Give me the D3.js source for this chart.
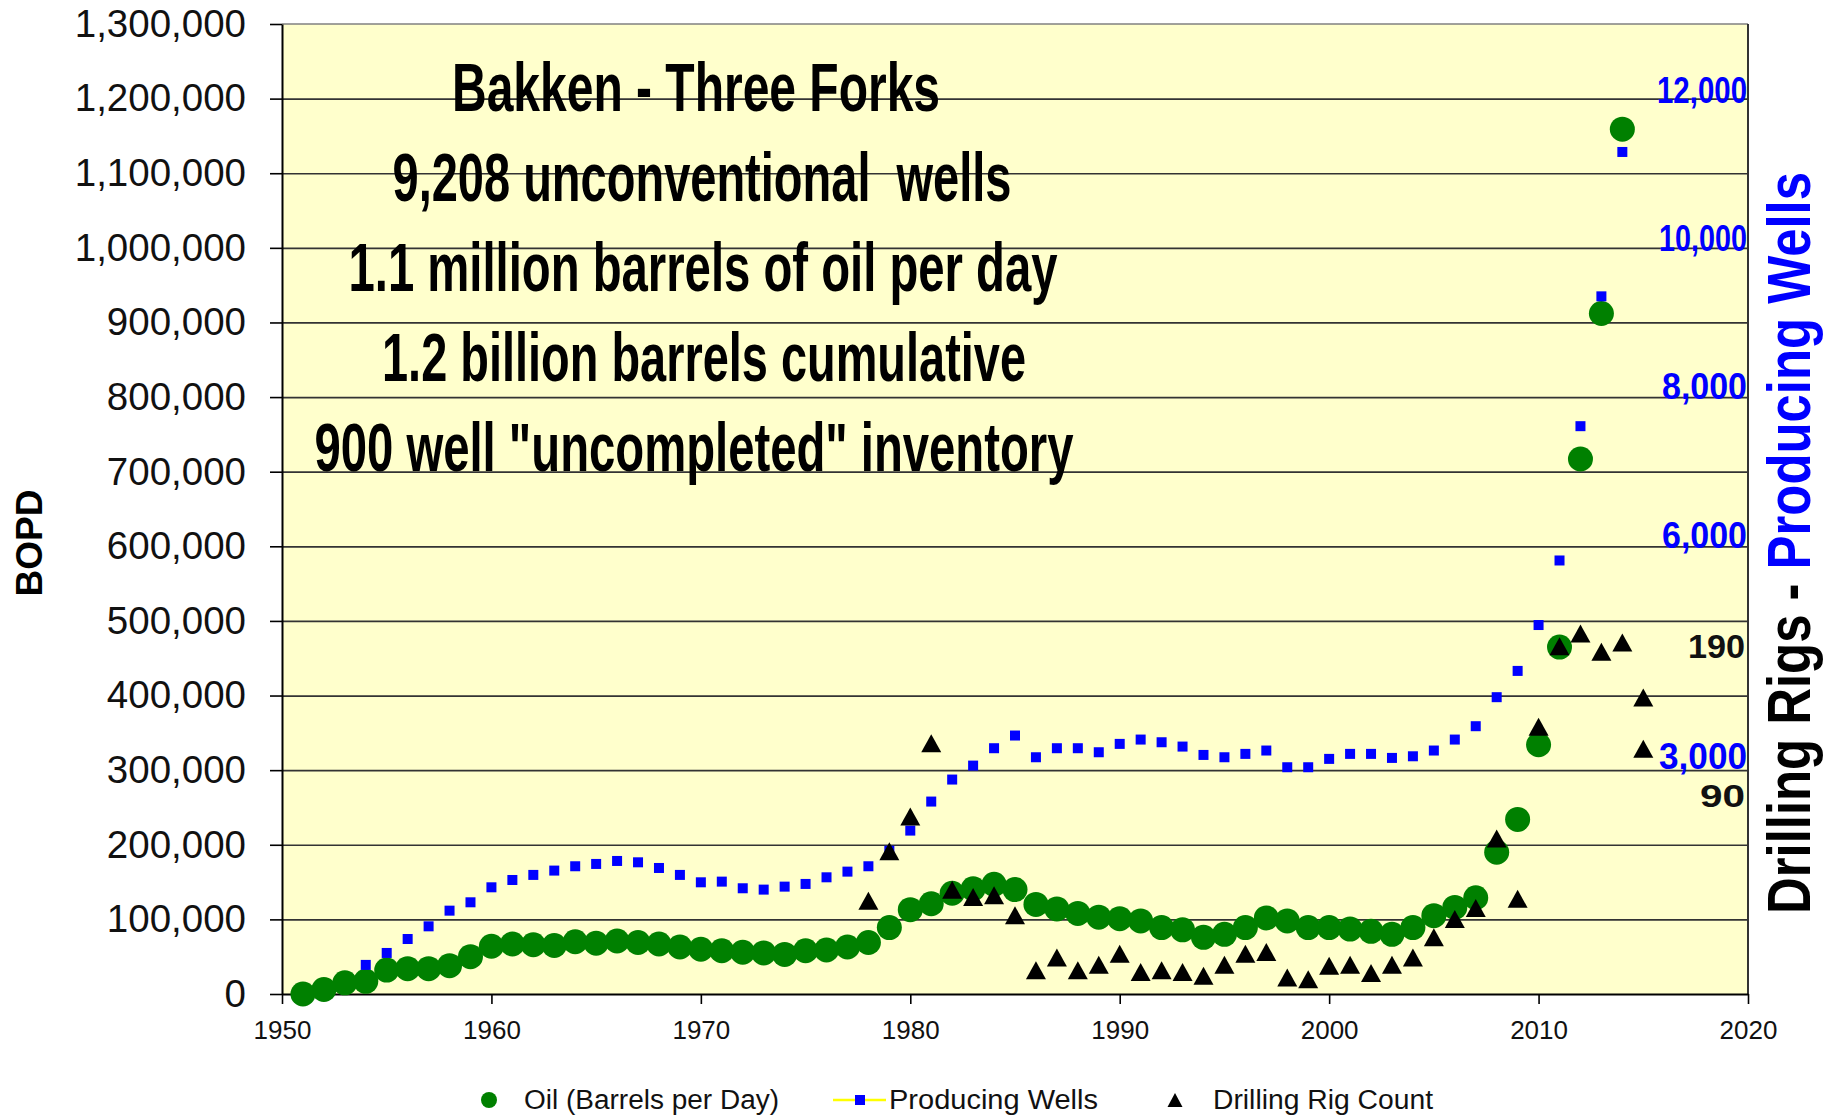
<!DOCTYPE html>
<html><head><meta charset="utf-8">
<script src="https://cdn.jsdelivr.net/npm/d3@7"></script>
<style>
html,body{margin:0;padding:0;background:#fff;}
svg{display:block;}
</style></head><body>
<svg id="chart" width="1825" height="1118"></svg>
<script>
// ---------------- DATA ----------------
const oilYears = [1951,1952,1953,1954,1955,1956,1957,1958,1959,1960,1961,1962,1963,1964,1965,1966,1967,1968,1969,1970,
  1971,1972,1973,1974,1975,1976,1977,1978,1979,1980,1981,1982,1983,1984,1985,1986,1987,1988,1989,1990,
  1991,1992,1993,1994,1995,1996,1997,1998,1999,2000,2001,2002,2003,2004,2005,2006,2007,2008,2009,2010,
  2011,2012,2013,2014];
const oilValues = [0,6000,15000,17000,32000,34000,34000,38000,50000,64000,67000,66000,65000,70000,68000,71000,69000,67000,63000,60000,
  58000,56000,55000,53000,58000,59000,63000,69000,89000,113000,121000,135000,141000,147000,140000,120000,114000,108000,103000,101000,
  98000,89000,86000,76000,80000,89000,102000,98000,89000,89000,87000,84000,80000,89000,105000,116000,129000,190000,234000,334000,
  465000,717000,912000,1159000];

const wellYears = [1954,1955,1956,1957,1958,1959,1960,1961,1962,1963,1964,1965,1966,1967,1968,1969,1970,
  1971,1972,1973,1974,1975,1976,1977,1978,1979,1980,1981,1982,1983,1984,1985,1986,1987,1988,1989,1990,
  1991,1992,1993,1994,1995,1996,1997,1998,1999,2000,2001,2002,2003,2004,2005,2006,2007,2008,2009,2010,
  2011,2012,2013,2014];
const wellValues = [390,550,737,907,1117,1229,1430,1528,1596,1654,1712,1743,1783,1765,1689,1596,1497,
  1506,1417,1399,1439,1475,1564,1640,1712,1920,2190,2579,2874,3061,3294,3464,3173,3294,3294,3240,3352,
  3410,3374,3316,3204,3173,3218,3263,3039,3039,3151,3218,3218,3164,3186,3263,3410,3589,3978,4330,4945,
  5810,7610,9350,11285];

const rigYears = [1978,1979,1980,1981,1982,1983,1984,1985,1986,1987,1988,1989,1990,
  1991,1992,1993,1994,1995,1996,1997,1998,1999,2000,2001,2002,2003,2004,2005,2006,2007,2008,2009,2010,
  2011,2012,2013,2014,2015,2015];
const rigValues = [51,78,97,137,57,53,54,43,13,20,13,16,22,
  12,13,12,10,16,22,23,9,8,15.5,16,11.5,16,20,31,41,47,85,52,146,
  190,197,187,192,162,134];

const bopdTicks = [0,100000,200000,300000,400000,500000,600000,700000,800000,900000,1000000,1100000,1200000,1300000];
const yearTicks = [1950,1960,1970,1980,1990,2000,2010,2020];
const wellTicks = [3000,6000,8000,10000,12000];
const rigTickLabels = ["190","90"];
const rigTickAnchors = [190,109];   // where the original hand-placed the rig labels
const titleLines = ["Bakken - Three Forks","9,208 unconventional  wells","1.1 million barrels of oil per day",
  "1.2 billion barrels cumulative","900 well \"uncompleted\" inventory"];
const legendLabels = ["Oil (Barrels per Day)","Producing Wells","Drilling Rig Count"];

// ---------------- LAYOUT ----------------
const M = {left:282, top:24, right:1748, bottom:994};
const SANS = "'Liberation Sans', Arial, Helvetica, sans-serif";
const NARROW = "'Liberation Sans Narrow', 'Arial Narrow', 'Liberation Sans', Arial, sans-serif";
const svg = d3.select('#chart');

const x = d3.scaleLinear().domain([1950,2020]).range([M.left,M.right]);
const y = d3.scaleLinear().domain([0,1300000]).range([M.bottom,M.top]);
const yWells = d3.scaleLinear().domain([0,13000]).range([M.bottom,M.top]);
const yRigs = d3.scaleLinear().domain([0,530]).range([M.bottom,M.top]);

// plot background
svg.append('rect').attr('x',M.left).attr('y',M.top)
  .attr('width',M.right-M.left).attr('height',M.bottom-M.top).attr('fill','#FFFFCC');

// gridlines
svg.append('g').attr('transform',`translate(${M.left},0)`)
  .call(d3.axisLeft(y).tickValues(bopdTicks.filter(v=>v>0 && v<1300000)).tickSize(-(M.right-M.left)).tickFormat(''))
  .call(g=>g.select('.domain').remove())
  .selectAll('line').attr('stroke','#333').attr('stroke-width',1.7);

// top & right border
svg.append('line').attr('x1',M.left).attr('x2',M.right).attr('y1',M.top).attr('y2',M.top)
  .attr('stroke','#808080').attr('stroke-width',1.6);
svg.append('line').attr('x1',M.right).attr('x2',M.right).attr('y1',M.top).attr('y2',M.bottom)
  .attr('stroke','#333').attr('stroke-width',2);

// left axis
const gy = svg.append('g').attr('transform',`translate(${M.left},0)`)
  .call(d3.axisLeft(y).tickValues(bopdTicks).tickSize(12).tickSizeOuter(0).tickPadding(24).tickFormat(d3.format(',')));
gy.select('.domain').attr('stroke','#000').attr('stroke-width',2);
gy.selectAll('line').attr('stroke','#000').attr('stroke-width',1.6);
gy.selectAll('text').attr('font-family',SANS).attr('font-size',38.5).attr('fill','#111');

// bottom axis
const gx = svg.append('g').attr('transform',`translate(0,${M.bottom})`)
  .call(d3.axisBottom(x).tickValues(yearTicks).tickSize(10).tickSizeOuter(0).tickPadding(17).tickFormat(d3.format('d')));
gx.select('.domain').attr('stroke','#000').attr('stroke-width',2);
gx.selectAll('line').attr('stroke','#000').attr('stroke-width',1.6);
gx.selectAll('text').attr('font-family',SANS).attr('font-size',26).attr('fill','#111');

// title
const titleCenters = [696,702,703,704,694];
const titleLens = [488,619,709,644,759];
const titleBase = [111,201,291,381,471];
svg.append('g').selectAll('text').data(titleLines).join('text')
  .attr('x',(d,i)=>titleCenters[i]).attr('y',(d,i)=>titleBase[i])
  .attr('text-anchor','middle').attr('font-family',NARROW).attr('font-weight','bold')
  .attr('font-size',68).attr('fill','#000')
  .attr('textLength',(d,i)=>titleLens[i]).attr('lengthAdjust','spacingAndGlyphs')
  .style('white-space','pre')
  .text(d=>d);

// data marks
svg.append('g').selectAll('circle').data(oilYears).join('circle')
  .attr('cx',d=>x(d)).attr('cy',(d,i)=>y(oilValues[i])).attr('r',12.5).attr('fill','#008000');

svg.append('g').selectAll('rect').data(wellYears).join('rect')
  .attr('x',d=>x(d)-5).attr('y',(d,i)=>yWells(wellValues[i])-5)
  .attr('width',10).attr('height',10).attr('fill','#0000FF');

const tri = (w,h)=>`M0,${-h/2}L${w/2},${h/2}L${-w/2},${h/2}Z`;
svg.append('g').selectAll('path').data(rigYears).join('path')
  .attr('d',tri(20,18))
  .attr('transform',(d,i)=>`translate(${x(d)},${yRigs(rigValues[i])})`)
  .attr('fill','#000');

// right-side wells labels
const wellLens = {3000:88,6000:85,8000:85,10000:88,12000:90};
const wellShift = {3000:-1,6000:2,8000:2,10000:3,12000:4};
svg.append('g').selectAll('text').data(wellTicks).join('text')
  .attr('x',M.right-1).attr('y',d=>yWells(d)+wellShift[d])
  .attr('text-anchor','end').attr('font-family',NARROW).attr('font-weight','bold')
  .attr('font-size',36).attr('fill','#0000FF')
  .attr('textLength',d=>wellLens[d]).attr('lengthAdjust','spacingAndGlyphs')
  .text(d3.format(','));

// right-side rig labels
svg.append('g').selectAll('text').data(rigTickLabels).join('text')
  .attr('x',M.right-3).attr('y',(d,i)=>yRigs(rigTickAnchors[i])+12)
  .attr('text-anchor','end').attr('font-family',SANS).attr('font-weight','bold')
  .attr('font-size',(d,i)=>i===0?34:32).attr('fill','#111')
  .attr('textLength',(d,i)=>i===0?57:45).attr('lengthAdjust','spacingAndGlyphs')
  .text(d=>d);

// axis titles
svg.append('text').attr('transform','translate(42,543) rotate(-90)')
  .attr('text-anchor','middle').attr('font-family',SANS).attr('font-weight','bold')
  .attr('font-size',37).attr('fill','#000').text('BOPD');

const rt = svg.append('text').attr('transform','translate(1810,543) rotate(-90)')
  .attr('text-anchor','middle').attr('font-family',NARROW).attr('font-weight','bold')
  .attr('font-size',62).attr('textLength',742).attr('lengthAdjust','spacingAndGlyphs');
rt.append('tspan').attr('fill','#000').text('Drilling Rigs - ');
rt.append('tspan').attr('fill','#0000FF').text('Producing Wells');

// legend
const lg = svg.append('g');
const legY = 1100, legBase = 1109;
lg.append('circle').attr('cx',489).attr('cy',legY).attr('r',8).attr('fill','#008000');
lg.append('line').attr('x1',833).attr('x2',886).attr('y1',legY).attr('y2',legY).attr('stroke','#FFFF00').attr('stroke-width',2.5);
lg.append('rect').attr('x',855).attr('y',legY-5).attr('width',10).attr('height',10).attr('fill','#0000FF');
lg.append('path').attr('d',tri(15,14)).attr('transform',`translate(1175,${legY})`).attr('fill','#000');
const legX = [524,889,1213], legLen = [255,209,220];
lg.selectAll('text').data(legendLabels).join('text')
  .attr('x',(d,i)=>legX[i]).attr('y',legBase)
  .attr('font-family',SANS).attr('font-size',27).attr('fill','#111')
  .attr('textLength',(d,i)=>legLen[i]).attr('lengthAdjust','spacingAndGlyphs')
  .text(d=>d);
</script>
</body></html>
